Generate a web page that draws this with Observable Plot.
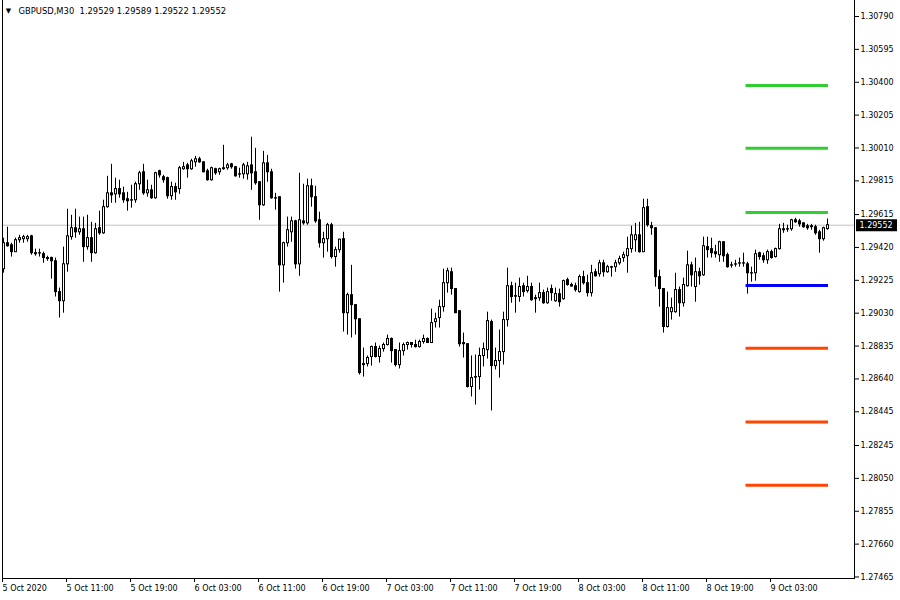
<!DOCTYPE html>
<html>
<head>
<meta charset="utf-8">
<script src="https://cdn.jsdelivr.net/npm/d3@7"></script>
<script src="https://cdn.jsdelivr.net/npm/@observablehq/plot@0.6"></script>
<style>
  html, body { margin: 0; padding: 0; background: #fff; }
  #chart svg { display: block; }
</style>
</head>
<body>
<div id="chart"></div>
<script>
const symbolLabel = "GBPUSD,M30";

const open = [
  1.29291,1.29445,1.29433,1.29392,1.29463,1.29469,1.29469,1.29486,1.29386,1.29386,
  1.29380,1.29357,1.29357,1.29338,1.29155,1.29101,1.29320,1.29481,1.29534,1.29510,
  1.29528,1.29422,1.29475,1.29386,1.29534,1.29504,1.29659,1.29741,1.29735,1.29766,
  1.29741,1.29706,1.29700,1.29700,1.29795,1.29866,1.29741,1.29759,1.29712,1.29872,
  1.29837,1.29831,1.29724,1.29778,1.29766,1.29884,1.29907,1.29884,1.29925,1.29943,
  1.29925,1.29872,1.29819,1.29884,1.29866,1.29890,1.29890,1.29913,1.29896,1.29854,
  1.29854,1.29854,1.29907,1.29866,1.29807,1.29670,1.29919,1.29866,1.29712,1.29718,
  1.29314,1.29445,1.29510,1.29575,1.29320,1.29575,1.29563,1.29783,1.29718,1.29581,
  1.29445,1.29469,1.29552,1.29363,1.29404,1.29469,1.29030,1.29137,1.29078,1.28994,
  1.28722,1.28728,1.28770,1.28829,1.28770,1.28817,1.28841,1.28877,1.28811,1.28722,
  1.28805,1.28841,1.28853,1.28841,1.28829,1.28859,1.28877,1.28853,1.28977,1.29001,
  1.29066,1.29208,1.29273,1.29173,1.29042,1.28853,1.28846,1.28592,1.28651,1.28651,
  1.28776,1.28811,1.28977,1.28716,1.28746,1.28799,1.28989,1.29190,1.29131,1.29126,
  1.29190,1.29161,1.29185,1.29119,1.29119,1.29149,1.29089,1.29173,1.29101,1.29143,
  1.29113,1.29226,1.29197,1.29190,1.29155,1.29244,1.29208,1.29149,1.29273,1.29261,
  1.29326,1.29273,1.29303,1.29303,1.29326,1.29357,1.29368,1.29410,1.29463,1.29492,
  1.29392,1.29659,1.29546,1.29534,1.29244,1.29173,1.28948,1.29036,1.29036,1.29167,
  1.29089,1.29190,1.29314,1.29185,1.29273,1.29255,1.29422,1.29410,1.29392,1.29374,
  1.29451,1.29374,1.29314,1.29320,1.29326,1.29326,1.29320,1.29267,1.29267,1.29386,
  1.29368,1.29344,1.29392,1.29363,1.29410,1.29522,1.29528,1.29528,1.29581,1.29575,
  1.29563,1.29546,1.29546,1.29540,1.29510,1.29469,1.29529
];

const high = [
  1.29475,1.29540,1.29445,1.29475,1.29492,1.29492,1.29492,1.29492,1.29410,1.29410,
  1.29392,1.29368,1.29363,1.29357,1.29179,1.29422,1.29647,1.29611,1.29647,1.29600,
  1.29600,1.29611,1.29569,1.29563,1.29635,1.29700,1.29842,1.29913,1.29831,1.29819,
  1.29778,1.29747,1.29789,1.29807,1.29872,1.29913,1.29819,1.29789,1.29866,1.29878,
  1.29848,1.29837,1.29807,1.29801,1.29901,1.29925,1.29919,1.29943,1.29960,1.29955,
  1.29928,1.29884,1.29896,1.29890,1.29890,1.30026,1.29919,1.29919,1.29901,1.29890,
  1.29919,1.29925,1.30074,1.30008,1.29810,1.29990,1.29966,1.29884,1.29741,1.29720,
  1.29451,1.29600,1.29600,1.29581,1.29860,1.29795,1.29825,1.29825,1.29783,1.29629,
  1.29510,1.29563,1.29563,1.29422,1.29469,1.29510,1.29149,1.29314,1.29080,1.28997,
  1.28823,1.28776,1.28835,1.28853,1.28835,1.28853,1.28900,1.28883,1.28814,1.28853,
  1.28853,1.28859,1.28856,1.28870,1.28870,1.28900,1.28883,1.29054,1.29030,1.29107,
  1.29291,1.29297,1.29297,1.29176,1.29045,1.28912,1.28849,1.28776,1.28782,1.28823,
  1.28853,1.29036,1.28989,1.28823,1.28930,1.29036,1.29297,1.29214,1.29208,1.29238,
  1.29208,1.29249,1.29208,1.29137,1.29208,1.29167,1.29179,1.29197,1.29179,1.29173,
  1.29226,1.29238,1.29208,1.29208,1.29256,1.29279,1.29256,1.29314,1.29291,1.29344,
  1.29344,1.29314,1.29308,1.29344,1.29368,1.29392,1.29481,1.29546,1.29563,1.29569,
  1.29706,1.29706,1.29569,1.29537,1.29285,1.29176,1.29155,1.29119,1.29267,1.29185,
  1.29238,1.29398,1.29332,1.29357,1.29297,1.29481,1.29481,1.29475,1.29433,1.29457,
  1.29454,1.29386,1.29332,1.29344,1.29357,1.29386,1.29332,1.29303,1.29404,1.29392,
  1.29386,1.29404,1.29404,1.29416,1.29557,1.29563,1.29552,1.29587,1.29593,1.29587,
  1.29566,1.29557,1.29557,1.29552,1.29522,1.29540,1.29589
];

const low = [
  1.29267,1.29422,1.29363,1.29392,1.29445,1.29445,1.29451,1.29374,1.29368,1.29363,
  1.29326,1.29338,1.29232,1.29126,1.29001,1.29030,1.29273,1.29463,1.29475,1.29492,
  1.29332,1.29404,1.29332,1.29380,1.29492,1.29498,1.29653,1.29682,1.29682,1.29712,
  1.29682,1.29635,1.29653,1.29682,1.29759,1.29729,1.29718,1.29706,1.29706,1.29831,
  1.29801,1.29706,1.29700,1.29700,1.29735,1.29878,1.29831,1.29878,1.29896,1.29919,
  1.29863,1.29813,1.29813,1.29848,1.29848,1.29878,1.29878,1.29884,1.29837,1.29831,
  1.29825,1.29819,1.29759,1.29789,1.29581,1.29664,1.29807,1.29706,1.29641,1.29155,
  1.29208,1.29422,1.29451,1.29291,1.29249,1.29552,1.29552,1.29659,1.29563,1.29416,
  1.29357,1.29392,1.29351,1.29303,1.29386,1.28918,1.28900,1.28883,1.28900,1.28663,
  1.28651,1.28711,1.28716,1.28764,1.28734,1.28799,1.28835,1.28734,1.28711,1.28699,
  1.28776,1.28811,1.28823,1.28823,1.28823,1.28846,1.28850,1.28850,1.28942,1.28942,
  1.29036,1.29149,1.29137,1.29027,1.28829,1.28764,1.28586,1.28533,1.28485,1.28574,
  1.28711,1.28758,1.28450,1.28693,1.28645,1.28722,1.28948,1.29089,1.29030,1.29095,
  1.29126,1.29149,1.29101,1.29030,1.29101,1.29083,1.29083,1.29101,1.29095,1.29066,
  1.29107,1.29190,1.29185,1.29155,1.29149,1.29197,1.29126,1.29126,1.29244,1.29244,
  1.29244,1.29267,1.29244,1.29273,1.29314,1.29332,1.29267,1.29386,1.29392,1.29386,
  1.29389,1.29540,1.29492,1.29185,1.29066,1.28912,1.28942,1.28989,1.29030,1.29007,
  1.29066,1.29185,1.29185,1.29095,1.29197,1.29249,1.29357,1.29357,1.29357,1.29332,
  1.29332,1.29297,1.29297,1.29303,1.29303,1.29303,1.29143,1.29214,1.29220,1.29344,
  1.29326,1.29320,1.29351,1.29357,1.29404,1.29504,1.29510,1.29516,1.29563,1.29540,
  1.29534,1.29522,1.29522,1.29492,1.29386,1.29457,1.29522
];

const close = [
  1.29445,1.29427,1.29392,1.29463,1.29475,1.29481,1.29481,1.29386,1.29380,1.29384,
  1.29357,1.29351,1.29338,1.29155,1.29101,1.29320,1.29486,1.29534,1.29510,1.29528,
  1.29422,1.29475,1.29386,1.29528,1.29504,1.29659,1.29741,1.29729,1.29766,1.29735,
  1.29700,1.29694,1.29698,1.29795,1.29860,1.29741,1.29759,1.29712,1.29860,1.29848,
  1.29819,1.29724,1.29778,1.29747,1.29890,1.29896,1.29884,1.29931,1.29943,1.29925,
  1.29866,1.29819,1.29890,1.29860,1.29884,1.29884,1.29907,1.29896,1.29842,1.29852,
  1.29907,1.29901,1.29860,1.29801,1.29670,1.29919,1.29866,1.29712,1.29710,1.29314,
  1.29445,1.29522,1.29575,1.29320,1.29581,1.29563,1.29783,1.29718,1.29575,1.29445,
  1.29469,1.29552,1.29363,1.29404,1.29466,1.29030,1.29137,1.29078,1.28994,1.28675,
  1.28728,1.28764,1.28829,1.28770,1.28817,1.28841,1.28877,1.28805,1.28722,1.28805,
  1.28841,1.28853,1.28841,1.28829,1.28859,1.28877,1.28853,1.28971,1.28994,1.29066,
  1.29208,1.29279,1.29173,1.29030,1.28846,1.28846,1.28592,1.28645,1.28648,1.28776,
  1.28817,1.28983,1.28716,1.28746,1.28799,1.28989,1.29190,1.29126,1.29128,1.29185,
  1.29155,1.29185,1.29107,1.29113,1.29149,1.29089,1.29155,1.29149,1.29143,1.29095,
  1.29220,1.29197,1.29188,1.29167,1.29244,1.29208,1.29149,1.29267,1.29249,1.29326,
  1.29273,1.29303,1.29300,1.29326,1.29351,1.29374,1.29410,1.29492,1.29492,1.29392,
  1.29653,1.29552,1.29534,1.29244,1.29173,1.28948,1.29060,1.29060,1.29167,1.29089,
  1.29197,1.29314,1.29255,1.29273,1.29249,1.29427,1.29404,1.29386,1.29380,1.29451,
  1.29368,1.29303,1.29312,1.29318,1.29324,1.29324,1.29267,1.29265,1.29380,1.29363,
  1.29344,1.29392,1.29357,1.29410,1.29528,1.29528,1.29526,1.29581,1.29569,1.29557,
  1.29540,1.29534,1.29540,1.29504,1.29469,1.29534,1.29552
];

// time axis: one label every 16 bars (8 hours of M30 bars)
const xTickBars = [0, 16, 32, 48, 64, 80, 96, 112, 128, 144, 160, 176, 192];
const xTickLabels = [
  "5 Oct 2020", "5 Oct 11:00", "5 Oct 19:00", "6 Oct 03:00", "6 Oct 11:00",
  "6 Oct 19:00", "7 Oct 03:00", "7 Oct 11:00", "7 Oct 19:00", "8 Oct 03:00",
  "8 Oct 11:00", "8 Oct 19:00", "9 Oct 03:00"
];

// price axis labels
const yTicks = [
  1.30790, 1.30595, 1.30400, 1.30205, 1.30010, 1.29815, 1.29615, 1.29420, 1.29225,
  1.29030, 1.28835, 1.28640, 1.28445, 1.28245, 1.28050, 1.27855, 1.27660, 1.27465
];

// pivot levels drawn on the right
const levelNames  = ["R3", "R2", "R1", "P", "S1", "S2", "S3"];
const levelValues = [1.30381, 1.30008, 1.29627, 1.29194, 1.28822, 1.28384, 1.28009];
const levelColors = ["#32cd32", "#32cd32", "#32cd32", "#0000ff", "#ff4500", "#ff4500", "#ff4500"];
const levelFromBar = 186;
const levelToBar = 206;

// ---- build tables ----
const n = close.length;
const bars = d3.range(n).map(i => ({
  i, o: open[i], h: high[i], l: low[i], c: close[i], up: close[i] > open[i]
}));
const levels = levelValues.map((v, k) => ({
  name: levelNames[k], v, color: levelColors[k], from: levelFromBar, to: levelToBar
}));
const last = bars[n - 1];
const titleText = symbolLabel + "\u00a0\u00a0" +
  [last.o, last.h, last.l, last.c].map(v => v.toFixed(5)).join("\u00a0");

const chart = Plot.plot({
  width: 900,
  height: 600,
  marginLeft: 2,
  marginRight: 46,
  marginTop: 0,
  marginBottom: 22,
  style: {
    fontFamily: "'DejaVu Sans', sans-serif",
    fontSize: "8px",
    background: "#fff",
    color: "#000",
    overflow: "visible"
  },
  x: { type: "linear", domain: [-0.25, 212.75], axis: null },
  y: { domain: [1.27456, 1.30885], axis: null },
  color: { type: "identity" },
  marks: [
    // bid line
    Plot.ruleY([last.c], { stroke: "#c0c0c0" }),
    // wicks
    Plot.ruleX(bars, { x: "i", y1: "l", y2: "h", stroke: "#000" }),
    // bodies (outline/black)
    Plot.rect(bars, {
      x1: "i", x2: "i", y1: "o", y2: "c", fill: "#000",
      insetLeft: -1, insetRight: -2, insetTop: -0.5, insetBottom: -0.5
    }),
    // hollow inside of bullish bodies
    Plot.rect(bars.filter(d => d.up), {
      x1: "i", x2: "i", y1: "o", y2: "c", fill: "#fff",
      insetLeft: 0, insetRight: -1, insetTop: 0.5, insetBottom: 0.5
    }),
    // pivot levels
    Plot.ruleY(levels, {
      y: "v", x1: "from", x2: "to", stroke: "color", strokeWidth: 3,
      insetLeft: -1.5, insetRight: -1
    }),
    // frame lines
    Plot.frame({ anchor: "left", stroke: "#000" }),
    Plot.frame({ anchor: "right", stroke: "#000" }),
    Plot.frame({ anchor: "bottom", stroke: "#000" }),
    // axes
    Plot.axisY({
      anchor: "right", ticks: yTicks, tickFormat: d => d.toFixed(5),
      tickSize: 4, tickPadding: 2, fill: "#000"
    }),
    Plot.axisX({
      anchor: "bottom", ticks: xTickBars,
      tickFormat: d => xTickLabels[xTickBars.indexOf(d)],
      textAnchor: "start", tickSize: 4, tickPadding: 3, dx: -1, fill: "#000"
    }),
    // current price box on the price axis
    Plot.ruleY([last.c], { stroke: "#000", strokeWidth: 12, insetLeft: 854, insetRight: -43 }),
    Plot.text([last], {
      y: "c", text: d => d.c.toFixed(5), frameAnchor: "right",
      dx: 5, textAnchor: "start", fill: "#fff"
    }),
    // title inside the chart
    Plot.text(["\u25BC"], {
      text: d => d, frameAnchor: "top-left", dx: 6, dy: 10, textAnchor: "middle",
      lineAnchor: "middle", fontSize: 7, fill: "#000"
    }),
    Plot.text([titleText], {
      text: d => d, frameAnchor: "top-left", dx: 16, dy: 11, textAnchor: "start",
      lineAnchor: "middle", fontSize: 8.4, fill: "#000"
    })
  ]
});

document.getElementById("chart").appendChild(chart);
</script>
</body>
</html>
